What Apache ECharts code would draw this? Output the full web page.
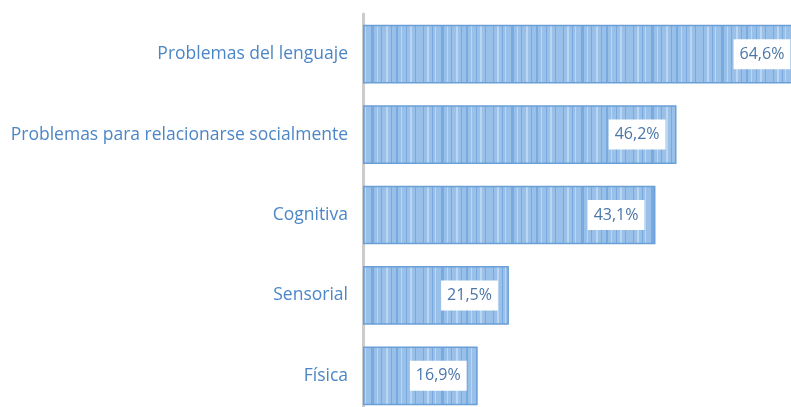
<!DOCTYPE html>
<html>
<head>
<meta charset="utf-8">
<script src="https://cdn.jsdelivr.net/npm/echarts@6/dist/echarts.min.js"></script>
<style>
  html, body { margin: 0; padding: 0; background: #fff; overflow: hidden; }
  /* chart is a bit larger than the window: the first bar and last row run off the edge */
  #chart { width: 838px; height: 416px; }
</style>
</head>
<body>
<div id="chart"></div>
<script>
// top to bottom as shown
const categories = ['Problemas del lenguaje', 'Problemas para relacionarse socialmente', 'Cognitiva', 'Sensorial', 'Física'];
const values = [64.6, 46.2, 43.1, 21.5, 16.9];

const COLORS = {
    barBase: '#98c0e9',
    stripeDark: '#78aadf',
    stripeLight: '#bcd6f1',
    border: '#6a9fd7',
    label: '#4c86c6',
    value: '#4a76a8',
    axis: '#cccccc',
};

// irregular vertical stripe fill
function stripePattern() {
    const c = document.createElement('canvas');
    c.width = 70; c.height = 8;
    const ctx = c.getContext('2d');
    ctx.fillStyle = COLORS.barBase;
    ctx.fillRect(0, 0, c.width, c.height);
    const stripes = [[3, 1, 'd'], [7, 2, 'l'], [12, 1, 'd'], [15, 1, 'l'], [21, 3, 'd'], [27, 1, 'l'], [31, 1, 'd'],
        [36, 2, 'l'], [41, 1, 'd'], [46, 2, 'd'], [51, 1, 'l'], [56, 1, 'd'], [60, 2, 'l'], [65, 1, 'd']];
    for (const [x, w, t] of stripes) {
        ctx.fillStyle = t === 'd' ? COLORS.stripeDark : COLORS.stripeLight;
        ctx.fillRect(x, 0, w, c.height);
    }
    return c;
}

const chart = echarts.init(document.getElementById('chart'), null, { renderer: 'canvas' });
chart.setOption({
    animation: false,
    backgroundColor: '#fff',
    textStyle: { fontFamily: '"Open Sans", "Liberation Sans", sans-serif' },
    grid: { left: 363, right: 0, top: 14, bottom: 0, containLabel: false },
    xAxis: {
        type: 'value', min: 0, max: 70, show: false,
    },
    yAxis: {
        type: 'category',
        data: categories,
        inverse: true,
        axisLine: { show: true, lineStyle: { color: COLORS.axis, width: 3 } },
        axisTick: { show: false },
        axisLabel: { color: COLORS.label, fontSize: 17.5, margin: 15 },
        splitLine: { show: false },
    },
    series: [{
        type: 'bar',
        data: values,
        barCategoryGap: '27%',
        itemStyle: {
            color: { image: stripePattern(), repeat: 'repeat' },
            borderColor: COLORS.border,
            borderWidth: 1.5,
        },
        label: {
            show: true,
            position: 'insideRight',
            distance: 11,
            formatter: p => p.value.toFixed(1).replace('.', ',') + '%',
            color: COLORS.value,
            fontSize: 16,
            backgroundColor: '#fff',
            padding: [8, 6, 6, 6],
        },
    }],
});
</script>
</body>
</html>
